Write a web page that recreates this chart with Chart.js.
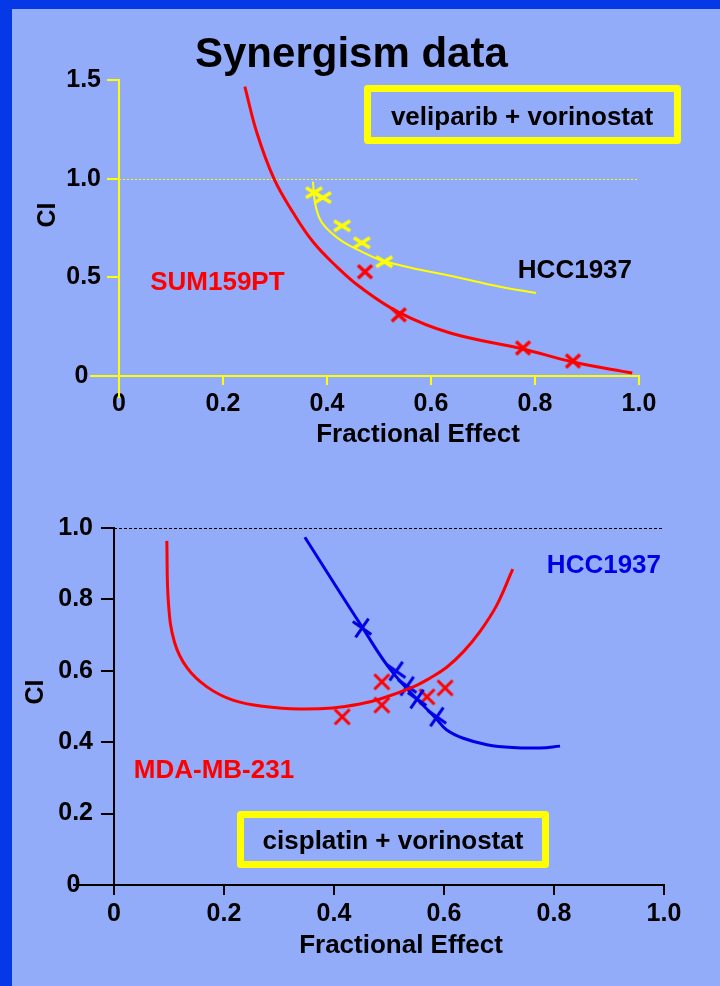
<!DOCTYPE html>
<html>
<head>
<meta charset="utf-8">
<script src="https://cdn.jsdelivr.net/npm/chart.js@4.4.1/dist/chart.umd.min.js"></script>
<style>
  html, body { margin: 0; padding: 0; }
  body { width: 720px; height: 986px; background: #93acf9; position: relative; overflow: hidden; }
  #frame { position: absolute; left: 0; top: 0; width: 720px; height: 986px; box-sizing: border-box;
           border-left: 12px solid #0538e6; border-top: 9px solid #0538e6; }
  canvas { position: absolute; left: 0; }
  #c1 { top: 0; }
  #c2 { top: 460px; }
</style>
</head>
<body>
<div id="frame"></div>
<canvas id="c1" width="720" height="460" style="width:720px;height:460px"></canvas>
<canvas id="c2" width="720" height="526" style="width:720px;height:526px"></canvas>
<script>
const FONT = '"Liberation Sans", Arial, Helvetica, sans-serif';
const RED = '#ff0000', YELLOW = '#ffff00', BLUE = '#0000e6', INK = '#000000';

// ---- top panel: veliparib + vorinostat ----
const xTicks1 = [0, 0.2, 0.4, 0.6, 0.8, 1.0];
const yTicks1 = [0, 0.5, 1.0, 1.5];
// SUM159PT fitted curve + measured points
const sumCurveFa = [0.242, 0.265, 0.298, 0.335, 0.373, 0.419, 0.463, 0.540, 0.637, 0.777, 0.873, 0.987];
const sumCurveCI = [1.467, 1.234, 1.000, 0.827, 0.680, 0.553, 0.452, 0.320, 0.218, 0.137, 0.071, 0.015];
const sumPtsFa = [0.473, 0.538, 0.777, 0.873];
const sumPtsCI = [0.528, 0.310, 0.142, 0.076];
// HCC1937 fitted curve + measured points
const hccCurveFa = [0.373, 0.377, 0.387, 0.406, 0.431, 0.463, 0.502, 0.579, 0.637, 0.733, 0.802];
const hccCurveCI = [0.985, 0.878, 0.792, 0.731, 0.680, 0.635, 0.589, 0.538, 0.508, 0.452, 0.421];
const hccPtsFa = [0.375, 0.392, 0.429, 0.467, 0.510];
const hccPtsCI = [0.929, 0.904, 0.761, 0.675, 0.579];

// ---- bottom panel: cisplatin + vorinostat ----
const xTicks2 = [0, 0.2, 0.4, 0.6, 0.8, 1.0];
const yTicks2 = [0, 0.2, 0.4, 0.6, 0.8, 1.0];
const hcc2CurveFa = [0.347, 0.451, 0.507, 0.587, 0.605, 0.635, 0.678, 0.725, 0.775, 0.811];
const hcc2CurveCI = [0.974, 0.723, 0.595, 0.464, 0.434, 0.411, 0.393, 0.385, 0.384, 0.389];
const hcc2PtsFa = [0.451, 0.513, 0.533, 0.551, 0.587];
const hcc2PtsCI = [0.720, 0.599, 0.557, 0.521, 0.471];
const mdaCurveFa = [0.096, 0.099, 0.110, 0.133, 0.169, 0.216, 0.278, 0.338, 0.398, 0.447, 0.484, 0.544, 0.575, 0.605, 0.635, 0.665, 0.696, 0.725];
const mdaCurveCI = [0.964, 0.790, 0.680, 0.608, 0.555, 0.518, 0.499, 0.493, 0.496, 0.507, 0.521, 0.555, 0.580, 0.610, 0.653, 0.709, 0.784, 0.885];
const mdaPtsFa = [0.415, 0.487, 0.487, 0.569, 0.602];
const mdaPtsCI = [0.471, 0.569, 0.504, 0.527, 0.552];

const pts = (xs, ys) => xs.map((x, i) => ({ x, y: ys[i] }));

// small canvas used as point style (an "x" mark)
function crossMark(w, h, lw, color, angle) {
  const s = Math.ceil(Math.max(w, h) + lw * 2);
  const c = document.createElement('canvas');
  c.width = s; c.height = s;
  const g = c.getContext('2d');
  g.translate(s / 2, s / 2);
  g.rotate(angle * Math.PI / 180);
  g.strokeStyle = color; g.lineWidth = lw;
  g.beginPath();
  g.moveTo(-w / 2, -h / 2); g.lineTo(w / 2, h / 2);
  g.moveTo(w / 2, -h / 2); g.lineTo(-w / 2, h / 2);
  g.stroke();
  return c;
}

function curve(data, color, width) {
  return { data, showLine: true, borderColor: color, borderWidth: width, pointRadius: 0,
           tension: 0.4, clip: false };
}
function marks(data, img) {
  return { data, showLine: false, pointStyle: img, pointRadius: 8, clip: false };
}

// axis extensions, CI = 1 line, labels and boxes
const decor = {
  id: 'decor',
  beforeDatasetsDraw(chart, args, o) {
    const { ctx, chartArea: a, scales: { x, y } } = chart;
    ctx.save();
    const y1 = Math.round(y.getPixelForValue(1)) + 0.5;
    ctx.strokeStyle = o.refColor; ctx.lineWidth = 1; ctx.setLineDash(o.refDash);
    ctx.beginPath(); ctx.moveTo(a.left, y1); ctx.lineTo(x.getPixelForValue(1), y1); ctx.stroke();
    ctx.setLineDash([]);
    ctx.strokeStyle = o.axisColor; ctx.lineWidth = 2;
    ctx.beginPath();
    ctx.moveTo(a.left - o.extLeft, a.bottom); ctx.lineTo(a.left, a.bottom);
    ctx.moveTo(a.left, a.bottom); ctx.lineTo(a.left, a.bottom + o.extDown);
    ctx.stroke();
    ctx.restore();
  },
  afterDraw(chart, args, o) {
    const { ctx, scales: { x, y } } = chart;
    ctx.save();
    ctx.textBaseline = 'alphabetic';
    (o.boxes || []).forEach(b => {
      ctx.strokeStyle = YELLOW; ctx.lineWidth = 7; ctx.lineJoin = 'round';
      ctx.strokeRect(b.x, b.y, b.w, b.h);
    });
    (o.texts || []).forEach(t => {
      ctx.font = `bold ${t.size}px ${FONT}`;
      ctx.fillStyle = t.color;
      ctx.textAlign = t.align || 'left';
      let px = t.px, py = t.py;
      if (t.fa !== undefined) { px = x.getPixelForValue(t.fa); py = y.getPixelForValue(t.ci); }
      if (t.rot) {
        ctx.save(); ctx.translate(px, py); ctx.rotate(-Math.PI / 2);
        ctx.fillText(t.text, 0, 0); ctx.restore();
      } else {
        ctx.fillText(t.text, px, py);
      }
    });
    ctx.restore();
  }
};

function axes(o) {
  const tickFont = { family: FONT, size: 25, weight: 'bold' };
  return {
    x: {
      type: 'linear', min: 0, max: 1,
      afterBuildTicks: s => { s.ticks = o.xTicks.map(v => ({ value: v })); },
      afterFit: s => { s.height = o.xHeight; },
      grid: { display: true, drawOnChartArea: false, drawTicks: true, tickLength: o.xTickLen,
              color: o.axisColor, lineWidth: 2 },
      border: { display: true, color: o.axisColor, width: 2 },
      ticks: { color: INK, font: tickFont, padding: 4, maxRotation: 0, autoSkip: false,
               callback: v => v === 0 ? '0' : v.toFixed(1) }
    },
    y: {
      type: 'linear', min: 0, max: o.yMax,
      afterBuildTicks: s => { s.ticks = o.yTicks.map(v => ({ value: v })); },
      afterFit: s => { s.width = o.yWidth; },
      grid: { display: true, drawOnChartArea: false, drawTicks: true, tickLength: o.yTickLen,
              color: o.axisColor, lineWidth: 2 },
      border: { display: true, color: o.axisColor, width: 2 },
      ticks: { color: INK, font: tickFont, padding: o.yPad, autoSkip: false,
               callback: v => v === 0 ? '0\u2002' : v.toFixed(1) }
    }
  };
}

new Chart(document.getElementById('c1'), {
  type: 'scatter',
  data: {
    datasets: [
      curve(pts(sumCurveFa, sumCurveCI), RED, 3),
      curve(pts(hccCurveFa, hccCurveCI), YELLOW, 2),
      marks(pts(hccPtsFa, hccPtsCI), crossMark(16, 10, 3.5, YELLOW, 0)),
      marks(pts(sumPtsFa, sumPtsCI), crossMark(14, 13, 3.5, RED, 0))
    ]
  },
  options: {
    responsive: false, animation: false, events: [],
    layout: { padding: { left: 0, right: 81, top: 80, bottom: 0 } },
    scales: axes({ xTicks: xTicks1, yTicks: yTicks1, yMax: 1.5, axisColor: YELLOW,
                   xHeight: 84, yWidth: 119, xTickLen: 9, yTickLen: 12, yPad: 6 }),
    plugins: {
      legend: { display: false }, tooltip: { enabled: false },
      decor: {
        refColor: YELLOW, refDash: [2, 2], axisColor: YELLOW, extLeft: 29, extDown: 22,
        boxes: [{ x: 367.5, y: 88.5, w: 310, h: 52 }],
        texts: [
          { text: 'Synergism data', px: 195, py: 67, size: 42, color: INK },
          { text: 'veliparib + vorinostat', px: 522, py: 125, size: 26, color: INK, align: 'center' },
          { text: 'SUM159PT', fa: 0.060, ci: 0.437, size: 26, color: RED },
          { text: 'HCC1937', fa: 0.767, ci: 0.497, size: 26, color: INK },
          { text: 'Fractional Effect', px: 418, py: 442, size: 26, color: INK, align: 'center' },
          { text: 'CI', px: 55, py: 215, size: 25, color: INK, align: 'center', rot: true }
        ]
      }
    }
  },
  plugins: [decor]
});

new Chart(document.getElementById('c2'), {
  type: 'scatter',
  data: {
    datasets: [
      curve(pts(mdaCurveFa, mdaCurveCI), RED, 3),
      curve(pts(hcc2CurveFa, hcc2CurveCI), BLUE, 3),
      marks(pts(hcc2PtsFa, hcc2PtsCI), crossMark(16, 16, 3, BLUE, -10)),
      marks(pts(mdaPtsFa, mdaPtsCI), crossMark(15, 15, 3, RED, 0))
    ]
  },
  options: {
    responsive: false, animation: false, events: [],
    layout: { padding: { left: 0, right: 56, top: 68, bottom: 0 } },
    scales: axes({ xTicks: xTicks2, yTicks: yTicks2, yMax: 1.0, axisColor: INK,
                   xHeight: 101, yWidth: 114, xTickLen: 10, yTickLen: 13, yPad: 8 }),
    plugins: {
      legend: { display: false }, tooltip: { enabled: false },
      decor: {
        refColor: INK, refDash: [3, 2], axisColor: INK, extLeft: 41, extDown: 10,
        boxes: [{ x: 240.5, y: 354.5, w: 305, h: 50 }],
        texts: [
          { text: 'cisplatin + vorinostat', px: 393, py: 389, size: 26, color: INK, align: 'center' },
          { text: 'HCC1937', fa: 0.787, ci: 0.874, size: 26, color: BLUE },
          { text: 'MDA-MB-231', fa: 0.036, ci: 0.300, size: 26, color: RED },
          { text: 'Fractional Effect', px: 401, py: 493, size: 26, color: INK, align: 'center' },
          { text: 'CI', px: 43, py: 232, size: 25, color: INK, align: 'center', rot: true }
        ]
      }
    }
  },
  plugins: [decor]
});
</script>
</body>
</html>
